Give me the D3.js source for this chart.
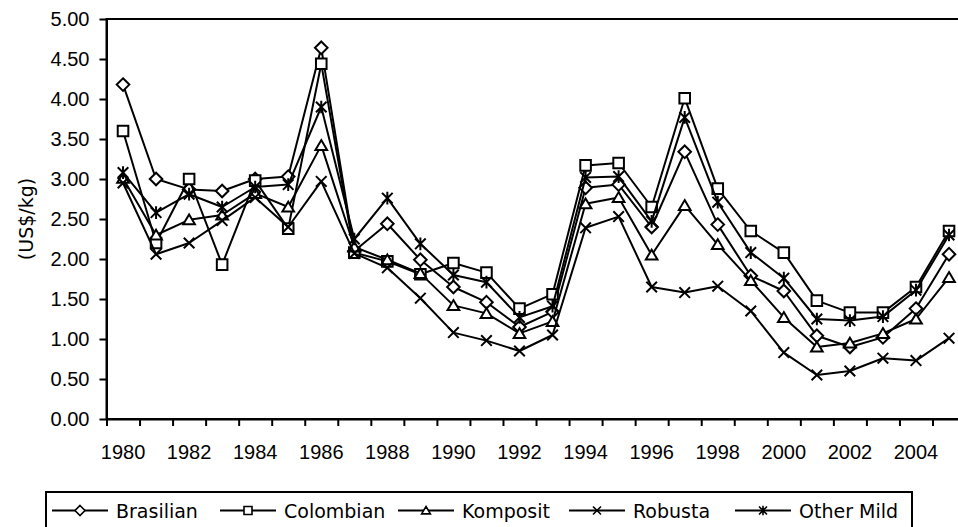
<!DOCTYPE html>
<html>
<head>
<meta charset="utf-8">
<script src="https://cdn.jsdelivr.net/npm/d3@7/dist/d3.min.js"></script>
<style>
  html, body { margin: 0; padding: 0; background: #fff; }
  svg { display: block; font-family: "DejaVu Sans", Verdana, sans-serif; }
</style>
</head>
<body>
<svg id="chart" width="958" height="527"></svg>
<script>
/* -------------------------------------------------------------------------- */
// coffee prices, US$/kg
const years = d3.range(1980, 2006);

const brasilian = [4.18, 3.00, 2.87, 2.85, 3.00, 3.03, 4.64, 2.10, 2.44, 1.99, 1.65, 1.46, 1.15,
                   1.34, 2.89, 2.93, 2.40, 3.34, 2.43, 1.79, 1.60, 1.04, 0.90, 1.02, 1.38, 2.06];
const colombian = [3.60, 2.20, 3.00, 1.93, 2.98, 2.38, 4.44, 2.08, 1.97, 1.81, 1.95, 1.83, 1.38,
                   1.56, 3.17, 3.20, 2.65, 4.01, 2.88, 2.35, 2.08, 1.48, 1.33, 1.33, 1.65, 2.35];
const komposit  = [3.01, 2.30, 2.49, 2.55, 2.82, 2.65, 3.42, 2.15, 1.99, 1.82, 1.42, 1.32, 1.07,
                   1.22, 2.69, 2.77, 2.05, 2.67, 2.18, 1.73, 1.27, 0.90, 0.95, 1.07, 1.25, 1.77];
const robusta   = [2.95, 2.06, 2.20, 2.48, 2.77, 2.40, 2.97, 2.07, 1.89, 1.51, 1.08, 0.98, 0.85,
                   1.05, 2.39, 2.53, 1.65, 1.58, 1.66, 1.35, 0.83, 0.55, 0.60, 0.76, 0.73, 1.01];
const otherMild = [3.08, 2.58, 2.81, 2.65, 2.90, 2.93, 3.90, 2.25, 2.76, 2.19, 1.80, 1.71, 1.27,
                   1.41, 3.02, 3.03, 2.47, 3.77, 2.71, 2.08, 1.76, 1.25, 1.23, 1.28, 1.61, 2.30];

const seriesNames = ['Brasilian', 'Colombian', 'Komposit', 'Robusta', 'Other Mild'];
const seriesMarks = ['diamond', 'square', 'triangle', 'cross', 'star'];
const yTicks = d3.range(0, 5.001, 0.5);

/* -------------------------------------------------------------------------- */
// marker shapes, r = half size
function markerPath(type, r) {
  let p = d3.path();
  if (type == 'diamond') {
    p.moveTo(0, -r); p.lineTo(r, 0); p.lineTo(0, r); p.lineTo(-r, 0); p.closePath();
  }
  else if (type == 'square') {
    p.rect(-r, -r, 2*r, 2*r);
  }
  else if (type == 'triangle') {
    p.moveTo(0, -r); p.lineTo(r*1.1, r*0.85); p.lineTo(-r*1.1, r*0.85); p.closePath();
  }
  else if (type == 'cross') {
    p.moveTo(-r, -r); p.lineTo(r, r); p.moveTo(r, -r); p.lineTo(-r, r);
  }
  else if (type == 'star') {
    p.moveTo(-r, -r); p.lineTo(r, r); p.moveTo(r, -r); p.lineTo(-r, r);
    p.moveTo(0, -r*1.2); p.lineTo(0, r*1.2);
  }
  return p.toString();
}

/* -------------------------------------------------------------------------- */
const svg = d3.select('#chart');

const plotL = 106.5, plotT = 19, plotB = 419, step = 33.04;
const plotR = plotL + years.length * step;

const x = d3.scaleBand().domain(years).range([plotL, plotR]).padding(0);
const xb = d3.scaleLinear().domain([0, years.length]).range([plotL, plotR]);
const y = d3.scaleLinear().domain([0, 5]).range([plotB, plotT]);

const series = [brasilian, colombian, komposit, robusta, otherMild].map((vals, i) => ({
  name: seriesNames[i],
  mark: seriesMarks[i],
  values: vals.map((v, j) => ({year: years[j], value: v}))
}));

// plot frame (right edge falls outside the picture)
svg.append('rect')
   .attr('x', plotL).attr('y', plotT)
   .attr('width', plotR - plotL).attr('height', plotB - plotT)
   .attr('fill', 'none').attr('stroke', '#000').attr('stroke-width', 2);

// y axis
let gy = svg.append('g')
  .attr('transform', `translate(${plotL},0)`)
  .call(d3.axisLeft(y).tickValues(yTicks).tickFormat(d3.format('.2f'))
          .tickSize(7).tickSizeOuter(0).tickPadding(10));
gy.selectAll('text').attr('font-size', 20).attr('fill', '#000').attr('font-family', null);
gy.selectAll('line, path').attr('stroke', '#000').attr('stroke-width', 2);

svg.append('text')
   .attr('transform', `translate(33,${(plotT + plotB)/2}) rotate(-90)`)
   .attr('text-anchor', 'middle')
   .attr('font-size', 19)
   .text('(US$/kg)');

// x axis: ticks between categories, labels every second year
let gxt = svg.append('g')
  .attr('transform', `translate(0,${plotB})`)
  .call(d3.axisBottom(xb).tickValues(d3.range(0, years.length + 1)).tickFormat('')
          .tickSize(7).tickSizeOuter(0));
gxt.selectAll('line, path').attr('stroke', '#000').attr('stroke-width', 2);

let gx = svg.append('g')
  .attr('transform', `translate(0,${plotB})`)
  .call(d3.axisBottom(x).tickValues(years.filter(d => d % 2 == 0))
          .tickSize(0).tickPadding(26));
gx.select('.domain').remove();
gx.selectAll('text').attr('font-size', 20).attr('fill', '#000').attr('font-family', null);

/* -------------------------------------------------------------------------- */
// lines + markers
const line = d3.line()
  .x(d => x(d.year) + x.bandwidth()/2)
  .y(d => y(d.value));

let gs = svg.append('g').selectAll('g.series')
  .data(series).enter().append('g').attr('class', 'series');

gs.append('path')
  .attr('d', d => line(d.values))
  .attr('fill', 'none').attr('stroke', '#000').attr('stroke-width', 2)
  .attr('stroke-linejoin', 'round');

gs.each(function(s) {
  d3.select(this).selectAll('path.mk')
    .data(s.values).enter().append('path')
    .attr('class', 'mk')
    .attr('transform', d => `translate(${x(d.year) + x.bandwidth()/2},${y(d.value)})`)
    .attr('d', markerPath(s.mark, s.mark == 'diamond' ? 6.3 : 5.3))
    .attr('fill', '#fff').attr('stroke', '#000').attr('stroke-width', 2);
});

/* -------------------------------------------------------------------------- */
// legend
const legendX = [52, 220, 398, 569, 735];
const legY = 510.5;

svg.append('rect')
   .attr('x', 46).attr('y', 492).attr('width', 912 - 46).attr('height', 60)
   .attr('fill', '#fff').attr('stroke', '#000').attr('stroke-width', 2);

let gl = svg.append('g').selectAll('g.leg')
  .data(series).enter().append('g')
  .attr('transform', (d, i) => `translate(${legendX[i]},${legY})`);

gl.append('line')
  .attr('x1', 0).attr('x2', 56).attr('y1', 0).attr('y2', 0)
  .attr('stroke', '#000').attr('stroke-width', 2);

gl.append('path')
  .attr('transform', 'translate(28,0)')
  .attr('d', d => markerPath(d.mark, d.mark == 'diamond' ? 5 : 4))
  .attr('fill', '#fff').attr('stroke', '#000').attr('stroke-width', 1.6);

gl.append('text')
  .attr('x', 64).attr('y', 7)
  .attr('font-size', 19)
  .text(d => d.name);
</script>
</body>
</html>
